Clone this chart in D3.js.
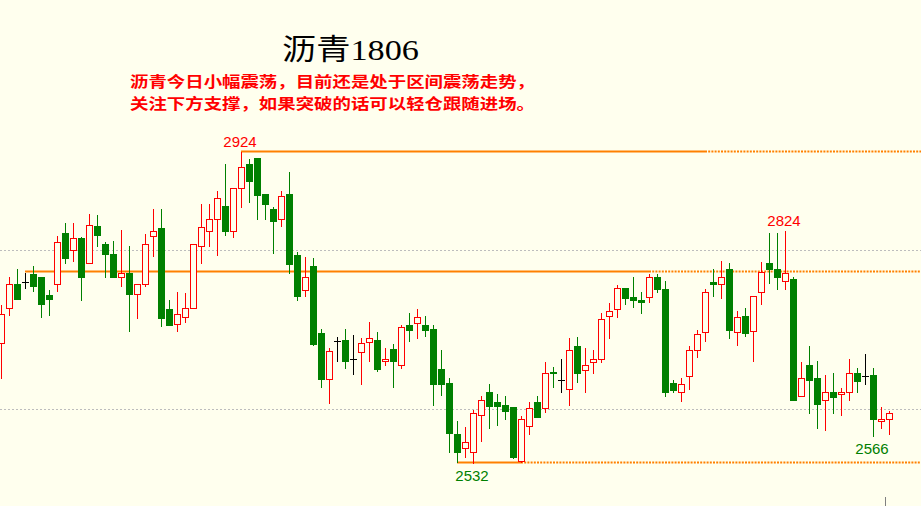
<!DOCTYPE html>
<html><head><meta charset="utf-8">
<script src="https://cdn.jsdelivr.net/npm/d3@7"></script>
<style>html,body{margin:0;padding:0;background:#FFFFEE;}svg{display:block;}</style>
</head><body><div id="chart"></div>
<script>
const title = "沥青1806";
const noteLines = ["沥青今日小幅震荡，目前还是处于区间震荡走势，", "关注下方支撑，如果突破的话可以轻仓跟随进场。"];
const open  = [2683,2727,2758,2760,2770,2766,2744,2757,2822,2800,2815,2784,2831,2808,2795,2766,2771,2745,2757,2818,2828,2726,2707,2716,2727,2805,2825,2840,2856,2824,2879,2909,2916,2871,2852,2840,2871,2794,2750,2780,2696,2638,2686,2687,2663,2672,2685,2687,2661,2676,2656,2706,2709,2706,2701,2650,2633,2569,2551,2546,2592,2621,2609,2605,2602,2534,2579,2609,2601,2647,2637,2625,2679,2649,2659,2663,2717,2726,2753,2741,2737,2741,2767,2751,2633,2621,2642,2675,2697,2760,2757,2777,2697,2717,2699,2747,2784,2776,2761,2764,2616,2656,2639,2611,2621,2619,2621,2645,2642,2643,2585,2587];
const high  = [2731,2766,2777,2772,2780,2766,2750,2818,2835,2835,2817,2846,2845,2811,2812,2826,2805,2757,2821,2852,2852,2737,2747,2746,2808,2858,2858,2875,2909,2878,2924,2915,2916,2871,2855,2875,2899,2798,2792,2790,2701,2677,2691,2701,2693,2689,2710,2697,2677,2682,2706,2721,2726,2717,2706,2675,2639,2585,2578,2599,2616,2632,2619,2617,2603,2591,2609,2616,2659,2653,2663,2689,2691,2677,2675,2721,2734,2756,2753,2766,2747,2770,2770,2761,2637,2639,2680,2700,2751,2776,2787,2784,2724,2727,2743,2785,2822,2822,2824,2766,2659,2680,2661,2643,2646,2626,2663,2652,2669,2652,2602,2598];
const low   = [2639,2719,2739,2753,2749,2716,2719,2749,2784,2787,2737,2784,2805,2766,2766,2755,2699,2715,2755,2793,2705,2706,2699,2710,2727,2784,2805,2794,2820,2817,2855,2861,2840,2840,2797,2831,2772,2737,2743,2681,2628,2608,2661,2652,2644,2631,2661,2648,2655,2628,2652,2686,2690,2692,2605,2618,2546,2533,2540,2532,2560,2576,2580,2587,2538,2533,2568,2590,2596,2628,2622,2605,2634,2622,2645,2659,2690,2716,2733,2729,2721,2735,2747,2616,2621,2610,2625,2665,2686,2742,2740,2689,2681,2692,2661,2733,2759,2751,2751,2611,2616,2595,2576,2574,2595,2592,2612,2622,2631,2566,2576,2568];
const close = [2720,2757,2739,2760,2755,2733,2739,2811,2790,2815,2767,2832,2820,2795,2766,2771,2745,2757,2808,2825,2715,2706,2720,2727,2808,2830,2840,2866,2824,2878,2905,2888,2870,2858,2837,2869,2783,2743,2767,2682,2638,2673,2686,2661,2663,2683,2690,2651,2663,2661,2703,2700,2716,2700,2632,2632,2570,2546,2558,2595,2611,2604,2604,2598,2540,2587,2601,2590,2646,2645,2637,2675,2645,2655,2663,2713,2723,2753,2740,2737,2735,2766,2751,2621,2624,2631,2675,2695,2747,2757,2767,2700,2716,2696,2743,2773,2776,2766,2772,2611,2639,2636,2606,2622,2615,2621,2646,2635,2642,2587,2587,2595];
// marked extremes: label text, candle index, position
const markPrices = [2924, 2824, 2532, 2566];
const markIndex  = [30, 98, 59, 109];
const markSide   = ["above", "above", "below", "below"];
// horizontal reference levels: price, first candle, last candle of solid part
const levelPrices = [2924, 2773, 2532];
const levelStart  = [30, 3, 57];
const levelSolidEnd = [88, 81, 65];
const gridPrices = [2800, 2600];

const W = 921, H = 506;
const svg = d3.select("#chart").append("svg").attr("width", W).attr("height", H);
svg.append("rect").attr("width", W).attr("height", H).attr("fill", "#FFFFEE");

const x = d3.scaleLinear().domain([0, open.length - 1]).range([1, 1 + 8 * (open.length - 1)]);
const y = d3.scaleLinear().domain([2532, 2924]).range([463, 152]);

// grid
svg.append("g").selectAll("line").data(gridPrices).join("line")
  .attr("x1", 0).attr("x2", W)
  .attr("y1", d => Math.round(y(d)) + 0.5).attr("y2", d => Math.round(y(d)) + 0.5)
  .attr("stroke", "#BDBDBD").attr("stroke-width", 1).attr("stroke-dasharray", "2,2");

// levels
const lv = svg.append("g");
levelPrices.forEach((p, i) => {
  const yy = Math.round(y(p)) - 0.5;
  lv.append("line").attr("x1", x(levelStart[i])).attr("x2", x(levelSolidEnd[i]))
    .attr("y1", yy).attr("y2", yy).attr("stroke", "#FF8000").attr("stroke-width", 2);
  lv.append("line").attr("x1", x(levelSolidEnd[i])).attr("x2", W)
    .attr("y1", yy).attr("y2", yy).attr("stroke", "#FF8000").attr("stroke-width", 2)
    .attr("stroke-dasharray", "2,1.2");
});

// candles
const idx = d3.range(open.length);
const g = svg.append("g");
idx.forEach(i => {
  const o = open[i], c = close[i], h = high[i], l = low[i];
  const cx = x(i);
  const col = c > o ? "#FF0000" : (c < o ? "#008000" : "#000000");
  g.append("line").attr("x1", cx + 0.5).attr("x2", cx + 0.5)
    .attr("y1", Math.round(y(h))).attr("y2", Math.round(y(l)) + 1)
    .attr("stroke", col).attr("stroke-width", 1);
  const yt = Math.round(y(Math.max(o, c))), yb = Math.round(y(Math.min(o, c)));
  if (c > o) {
    g.append("rect").attr("x", cx - 2.5).attr("y", yt + 0.5).attr("width", 6).attr("height", Math.max(yb - yt, 1))
      .attr("fill", "#FFFFEE").attr("stroke", col).attr("stroke-width", 1);
  } else if (c < o) {
    g.append("rect").attr("x", cx - 3).attr("y", yt).attr("width", 7).attr("height", Math.max(yb - yt + 1, 2))
      .attr("fill", col);
  } else {
    g.append("line").attr("x1", cx - 3).attr("x2", cx + 4).attr("y1", yt + 0.5).attr("y2", yt + 0.5)
      .attr("stroke", col).attr("stroke-width", 1);
  }
});

// marks
markPrices.forEach((p, i) => {
  const k = markIndex[i];
  const above = markSide[i] === "above";
  svg.append("text").attr("x", x(k) - 1).attr("y", above ? y(high[k]) - 5 : y(low[k]) + 18)
    .attr("text-anchor", "middle").attr("font-family", "Liberation Sans, Arial, sans-serif")
    .attr("font-size", 15).attr("fill", above ? "#FF0000" : "#008000").text(p);
});

// title
svg.append("text").attr("x", 282).attr("y", 60).attr("textLength", 137).attr("lengthAdjust", "spacingAndGlyphs")
  .attr("font-family", "Liberation Serif, 'Noto Sans CJK SC', serif").attr("font-size", 29).attr("fill", "#000")
  .text(title);
noteLines.forEach((t, i) => {
  svg.append("text").attr("x", 130).attr("y", 87 + i * 22).attr("textLength", 405).attr("lengthAdjust", "spacingAndGlyphs")
    .attr("font-family", "'Noto Sans CJK SC', sans-serif").attr("font-weight", "bold").attr("font-size", 15)
    .attr("fill", "#FF0000").text(t);
});

// small cursor tick at bottom
svg.append("line").attr("x1", 885.5).attr("x2", 885.5).attr("y1", 497).attr("y2", 506)
  .attr("stroke", "#808080").attr("stroke-width", 1);
</script>
</body></html>
